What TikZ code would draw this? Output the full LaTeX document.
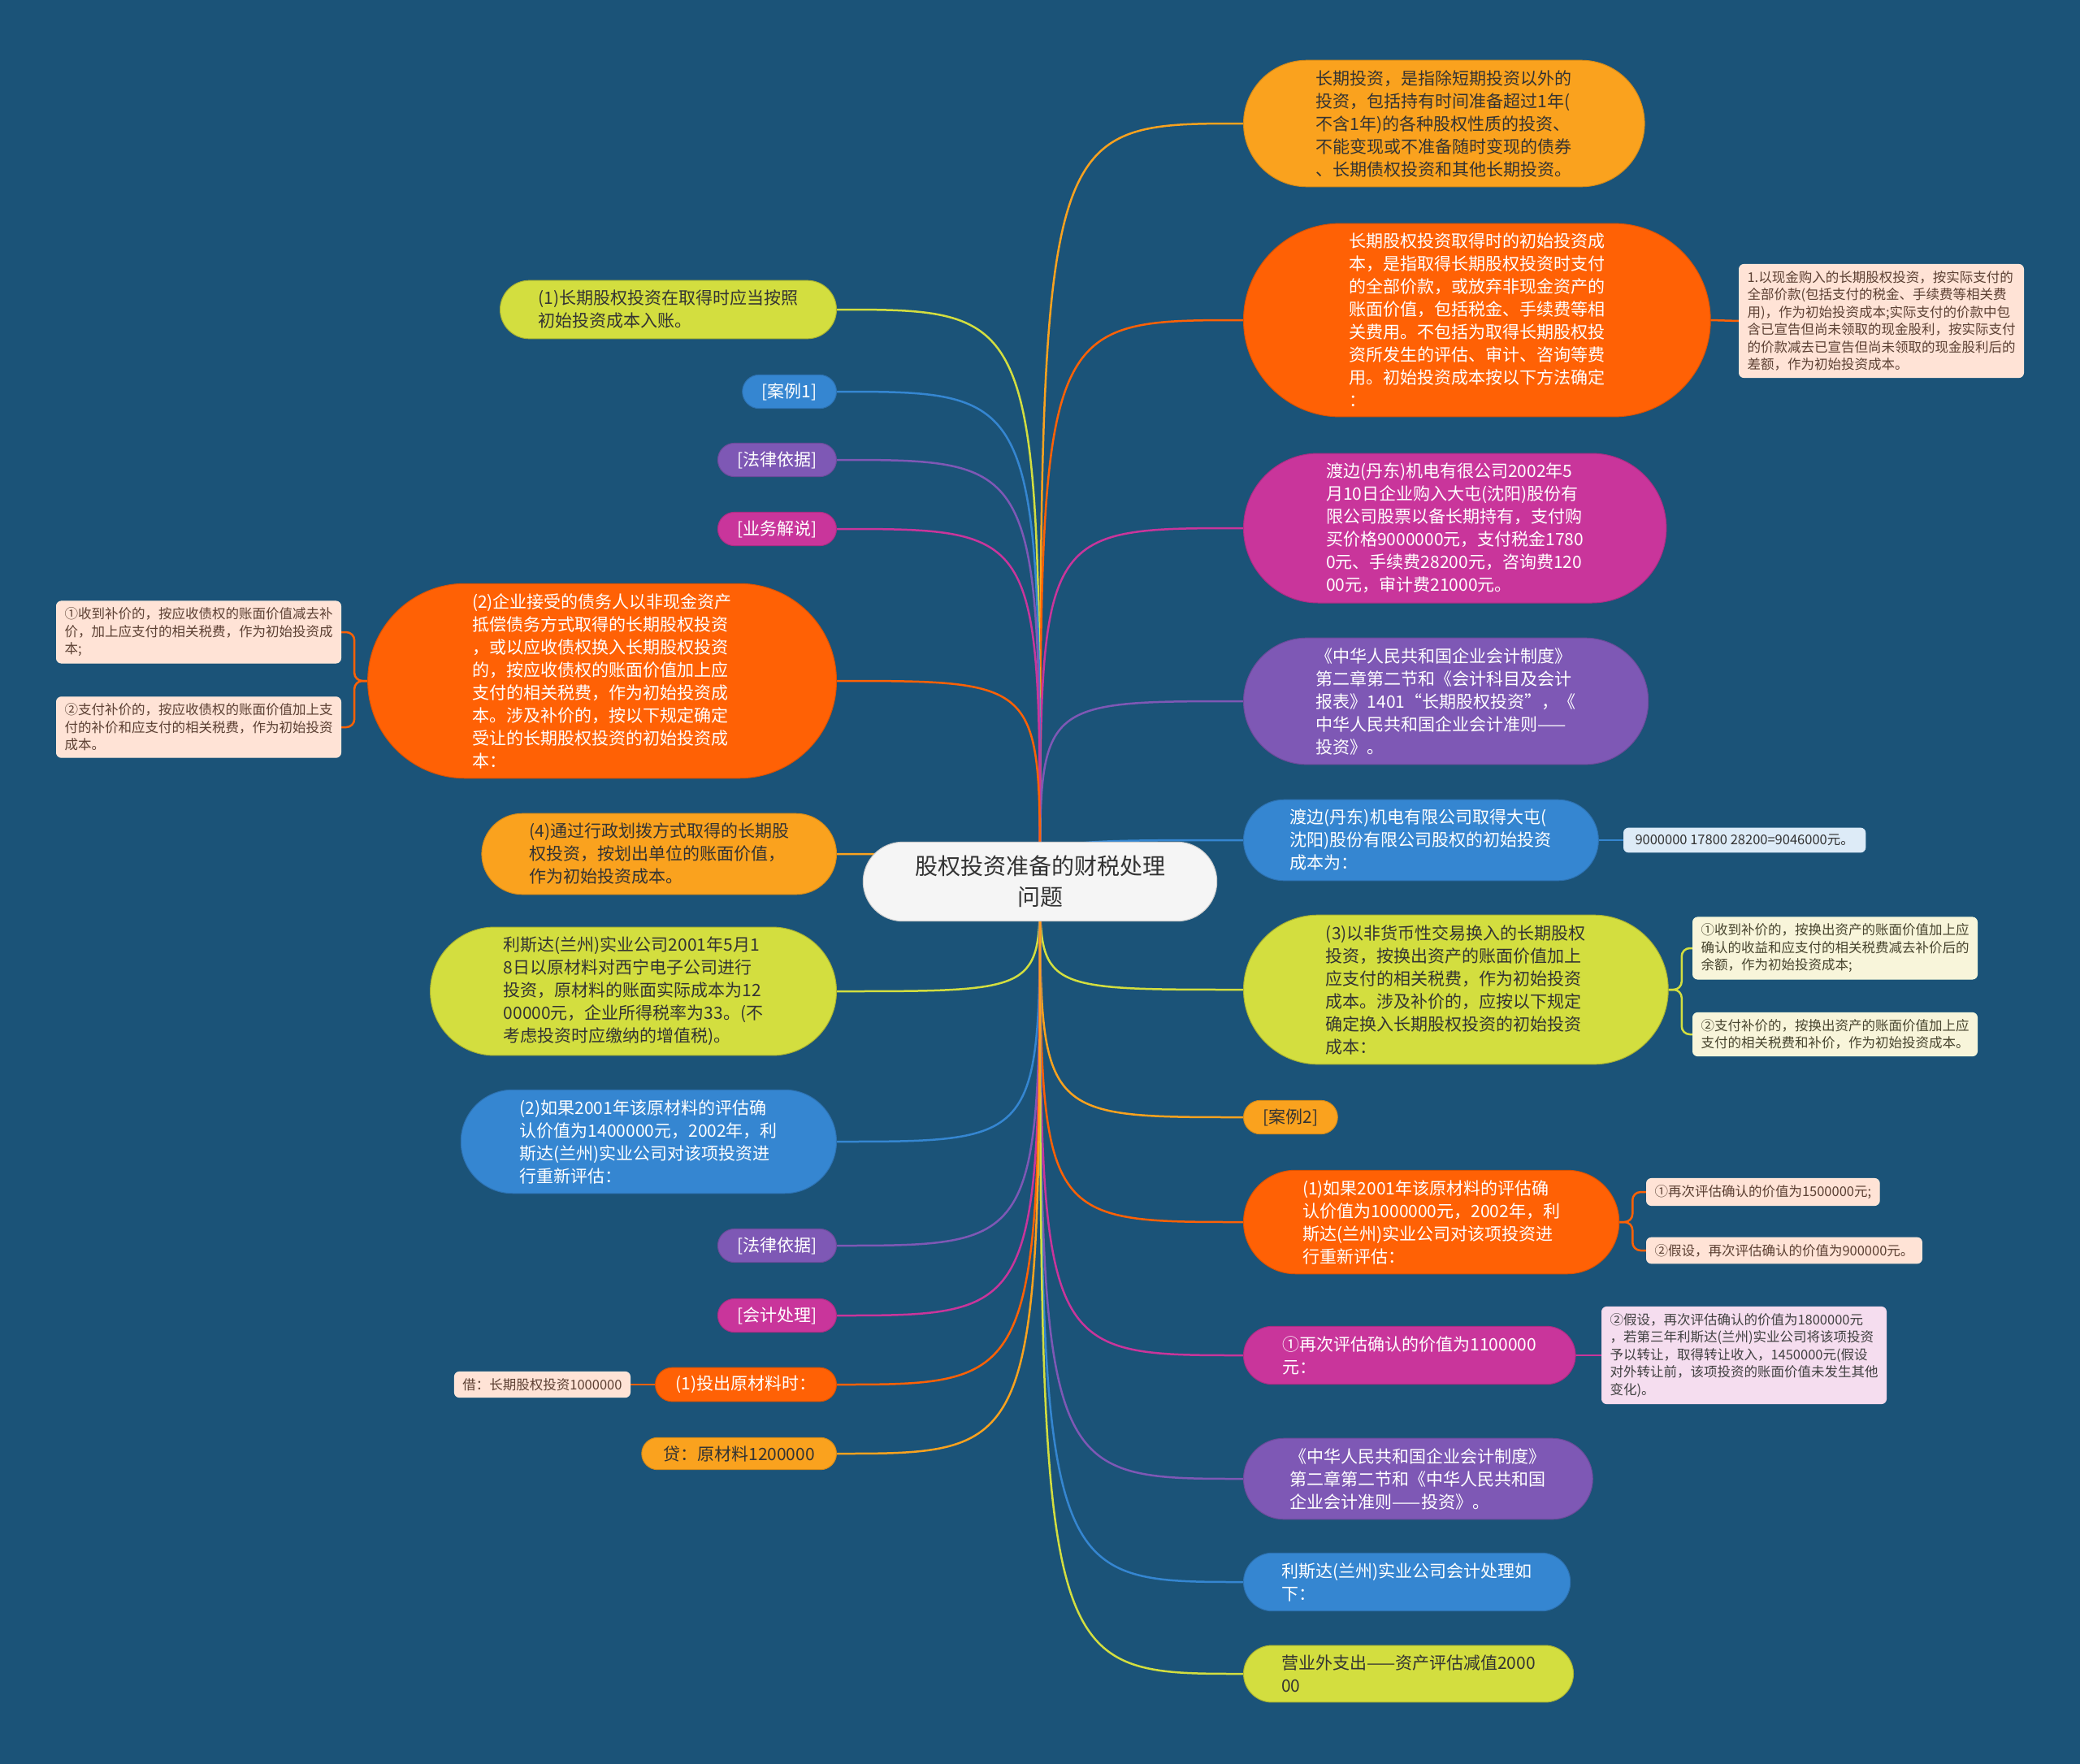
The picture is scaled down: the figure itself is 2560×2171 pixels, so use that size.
\documentclass[tikz,border=0pt]{standalone}
\usepackage{fontspec}
\setmainfont{Noto Sans CJK SC}
\usetikzlibrary{shapes.misc}
\definecolor{bgblue}{HTML}{1B5378}
\definecolor{mmorange}{HTML}{FAA21E}
\definecolor{mmred}{HTML}{FF6105}
\definecolor{mmpink}{HTML}{C9359B}
\definecolor{mmpurple}{HTML}{7E58B5}
\definecolor{mmblue}{HTML}{3586D1}
\definecolor{mmlime}{HTML}{D3DE3F}
\definecolor{darktext}{HTML}{333333}
\definecolor{HTMLpeach}{HTML}{FFE3D6}
\definecolor{HTMLbrown}{HTML}{5C4033}
\definecolor{leafblue}{HTML}{DDEBF7}
\definecolor{leafcream}{HTML}{F8F5DA}
\definecolor{leafpink}{HTML}{F5DDEF}
\pgfdeclarelayer{bg}
\pgfsetlayers{bg,main}
\tikzset{
  root/.style={rounded rectangle, align=center, fill=gray!8, draw=gray!40, line width=1pt,
    text=darktext, inner xsep=52pt, inner ysep=17pt, font=\fontsize{28}{37.5}\selectfont},
  topic/.style={rounded rectangle, align=left, inner xsep=40pt, inner ysep=12pt,
    line width=1pt, font=\fontsize{21}{28}\selectfont},
  pad/.style={inner xsep=#1},
  tag/.style={topic, inner xsep=21pt, inner ysep=10pt},
  leaf/.style={rectangle, rounded corners=6pt, align=left, inner xsep=10pt, inner ysep=8pt,
    line width=1pt, font=\fontsize{16.5}{21.5}\selectfont},
  cOrange/.style={fill=mmorange, draw=mmorange!85!black, text=darktext},
  cRed/.style={fill=mmred, draw=mmred!85!black, text=white},
  cPink/.style={fill=mmpink, draw=mmpink!85!black, text=white},
  cPurple/.style={fill=mmpurple, draw=mmpurple!85!black, text=white},
  cBlue/.style={fill=mmblue, draw=mmblue!85!black, text=white},
  cLime/.style={fill=mmlime, draw=mmlime!80!black, text=darktext},
  lPeach/.style={fill=HTMLpeach, draw=white!85!mmred, text=HTMLbrown},
  branch/.style={draw=#1, line width=2.5pt, line cap=round}
}

\begin{document}
\begin{tikzpicture}[x=1pt, y=-1pt]
% background
\begin{pgfonlayer}{bg}
  \fill[bgblue] (0,0) rectangle (2560,2171);
\end{pgfonlayer}
\useasboundingbox (0,0) rectangle (2560,2171);

% root
\node[root] (root) at (1280,1085) {股权投资准备的财税处理\\问题};

% right side
\node[topic, cOrange, pad=53pt, anchor=west] (r1) at (1530,152) {长期投资，是指除短期投资以外的\\投资，包括持有时间准备超过1年(\\不含1年)的各种股权性质的投资、\\不能变现或不准备随时变现的债券\\、长期债权投资和其他长期投资。};
\node[topic, cRed, pad=63pt, anchor=west] (r2) at (1530,394) {长期股权投资取得时的初始投资成\\本，是指取得长期股权投资时支付\\的全部价款，或放弃非现金资产的\\账面价值，包括税金、手续费等相\\关费用。不包括为取得长期股权投\\资所发生的评估、审计、咨询等费\\用。初始投资成本按以下方法确定\\：};
\node[leaf, lPeach, anchor=west] (r2n) at (2140,395) {1.以现金购入的长期股权投资，按实际支付的\\全部价款(包括支付的税金、手续费等相关费\\用)，作为初始投资成本;实际支付的价款中包\\含已宣告但尚未领取的现金股利，按实际支付\\的价款减去已宣告但尚未领取的现金股利后的\\差额，作为初始投资成本。};
\node[topic, cPink, pad=55pt, anchor=west] (r3) at (1530,650) {渡边(丹东)机电有很公司2002年5\\月10日企业购入大屯(沈阳)股份有\\限公司股票以备长期持有，支付购\\买价格9000000元，支付税金1780\\0元、手续费28200元，咨询费120\\00元，审计费21000元。};
\node[topic, cPurple, pad=53pt, anchor=west] (r4) at (1530,863) {《中华人民共和国企业会计制度》\\第二章第二节和《会计科目及会计\\报表》1401“长期股权投资”，《\\中华人民共和国企业会计准则——\\投资》。};
\node[topic, cBlue, anchor=west] (r5) at (1530,1034) {渡边(丹东)机电有限公司取得大屯(\\沈阳)股份有限公司股权的初始投资\\成本为：};
\node[leaf, fill=leafblue, draw=white!80!mmblue, text=darktext, inner xsep=14pt, anchor=west] (r5n) at (1998,1034) {9000000 17800 28200=9046000元。};
\node[topic, cLime, pad=55pt, anchor=west] (r6) at (1530,1218) {(3)以非货币性交易换入的长期股权\\投资，按换出资产的账面价值加上\\应支付的相关税费，作为初始投资\\成本。涉及补价的，应按以下规定\\确定换入长期股权投资的初始投资\\成本：};
\node[leaf, fill=leafcream, draw=white!80!mmlime, text=black!65!olive, anchor=west] (r6a) at (2083,1167) {①收到补价的，按换出资产的账面价值加上应\\确认的收益和应支付的相关税费减去补价后的\\余额，作为初始投资成本;};
\node[leaf, fill=leafcream, draw=white!80!mmlime, text=black!65!olive, anchor=west] (r6b) at (2083,1273) {②支付补价的，按换出资产的账面价值加上应\\支付的相关税费和补价，作为初始投资成本。};
\node[tag, cOrange, anchor=west] (r7) at (1530,1375) {[案例2]};
\node[topic, cRed, pad=46pt, anchor=west] (r8) at (1530,1504) {(1)如果2001年该原材料的评估确\\认价值为1000000元，2002年，利\\斯达(兰州)实业公司对该项投资进\\行重新评估：};
\node[leaf, lPeach, anchor=west] (r8a) at (2026,1467) {①再次评估确认的价值为1500000元;};
\node[leaf, lPeach, anchor=west] (r8b) at (2026,1539) {②假设，再次评估确认的价值为900000元。};
\node[topic, cPink, pad=39pt, anchor=west] (r9) at (1530,1668) {①再次评估确认的价值为1100000\\元：};
\node[leaf, fill=leafpink, draw=white!80!mmpink, text=black!75, anchor=west] (r9n) at (1971,1668) {②假设，再次评估确认的价值为1800000元\\，若第三年利斯达(兰州)实业公司将该项投资\\予以转让，取得转让收入，1450000元(假设\\对外转让前，该项投资的账面价值未发生其他\\变化)。};
\node[topic, cPurple, anchor=west] (r10) at (1530,1820) {《中华人民共和国企业会计制度》\\第二章第二节和《中华人民共和国\\企业会计准则——投资》。};
\node[topic, cBlue, pad=38pt, anchor=west] (r11) at (1530,1947) {利斯达(兰州)实业公司会计处理如\\下：};
\node[topic, cLime, pad=38pt, anchor=west] (r12) at (1530,2060) {营业外支出——资产评估减值2000\\00};

% left side
\node[topic, cLime, pad=38pt, anchor=east] (l1) at (1030,381) {(1)长期股权投资在取得时应当按照\\初始投资成本入账。};
\node[tag, cBlue, anchor=east] (l2) at (1030,482) {[案例1]};
\node[tag, cPurple, anchor=east] (l3) at (1030,566) {[法律依据]};
\node[tag, cPink, anchor=east] (l4) at (1030,651) {[业务解说]};
\node[topic, cRed, pad=61pt, anchor=east] (l5) at (1030,838) {(2)企业接受的债务人以非现金资产\\抵偿债务方式取得的长期股权投资\\，或以应收债权换入长期股权投资\\的，按应收债权的账面价值加上应\\支付的相关税费，作为初始投资成\\本。涉及补价的，按以下规定确定\\受让的长期股权投资的初始投资成\\本：};
\node[leaf, lPeach, anchor=east] (l5a) at (420,778) {①收到补价的，按应收债权的账面价值减去补\\价，加上应支付的相关税费，作为初始投资成\\本;};
\node[leaf, lPeach, anchor=east] (l5b) at (420,895) {②支付补价的，按应收债权的账面价值加上支\\付的补价和应支付的相关税费，作为初始投资\\成本。};
\node[topic, cOrange, pad=41pt, anchor=east] (l6) at (1030,1051) {(4)通过行政划拨方式取得的长期股\\权投资，按划出单位的账面价值，\\作为初始投资成本。};
\node[topic, cLime, pad=53pt, anchor=east] (l7) at (1030,1220) {利斯达(兰州)实业公司2001年5月1\\8日以原材料对西宁电子公司进行\\投资，原材料的账面实际成本为12\\00000元，企业所得税率为33。(不\\考虑投资时应缴纳的增值税)。};
\node[topic, cBlue, pad=46pt, anchor=east] (l8) at (1030,1405) {(2)如果2001年该原材料的评估确\\认价值为1400000元，2002年，利\\斯达(兰州)实业公司对该项投资进\\行重新评估：};
\node[tag, cPurple, anchor=east] (l9) at (1030,1533) {[法律依据]};
\node[tag, cPink, anchor=east] (l10) at (1030,1619) {[会计处理]};
\node[tag, cRed, pad=22pt, anchor=east] (l11) at (1030,1704) {(1)投出原材料时：};
\node[leaf, lPeach, anchor=east] (l11n) at (776,1704) {借：长期股权投资1000000};
\node[tag, cOrange, pad=24pt, anchor=east] (l12) at (1030,1789) {贷：原材料1200000};

% connectors
\begin{pgfonlayer}{bg}
  \foreach \n/\c in {r1/mmorange, r2/mmred, r3/mmpink, r4/mmpurple, r5/mmblue, r6/mmlime,
                     r7/mmorange, r8/mmred, r9/mmpink, r10/mmpurple, r11/mmblue, r12/mmlime}
    \draw[branch=\c] (root.center) .. controls (root.center |- \n.west) .. (\n.west);
  \foreach \n/\c in {l1/mmlime, l2/mmblue, l3/mmpurple, l4/mmpink, l5/mmred, l6/mmorange,
                     l7/mmlime, l8/mmblue, l9/mmpurple, l10/mmpink, l11/mmred, l12/mmorange}
    \draw[branch=\c] (root.center) .. controls (root.center |- \n.east) .. (\n.east);

  % leaves
  \draw[branch=mmred] (r2.east) -- (r2n.west);
  \draw[branch=mmblue] (r5.east) -- (r5n.west);
  \draw[branch=mmpink] (r9.east) -- (r9n.west);
  \draw[branch=mmred] (l11.west) -- (l11n.east);
  \draw[branch=mmlime, rounded corners=10pt] (r6.east) -- ++(16,0) |- (r6a.west);
  \draw[branch=mmlime, rounded corners=10pt] (r6.east) -- ++(16,0) |- (r6b.west);
  \draw[branch=mmred, rounded corners=10pt] (r8.east) -- ++(16,0) |- (r8a.west);
  \draw[branch=mmred, rounded corners=10pt] (r8.east) -- ++(16,0) |- (r8b.west);
  \draw[branch=mmred, rounded corners=10pt] (l5.west) -- ++(-16,0) |- (l5a.east);
  \draw[branch=mmred, rounded corners=10pt] (l5.west) -- ++(-16,0) |- (l5b.east);
\end{pgfonlayer}
\end{tikzpicture}
\end{document}
